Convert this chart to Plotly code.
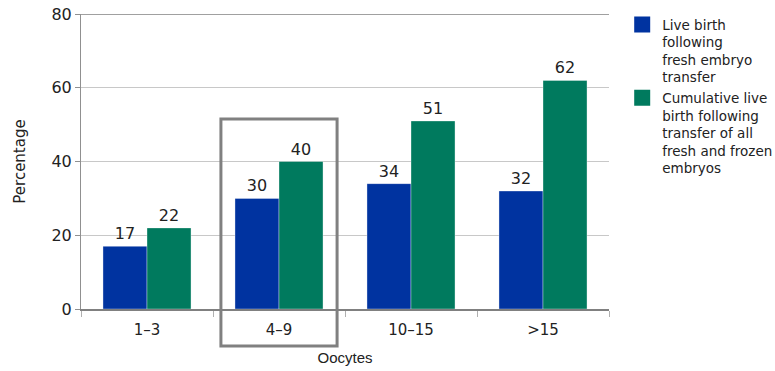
import plotly.graph_objects as go

categories = ["1\u20133", "4\u20139", "10\u201315", ">15"]
fresh = [17, 30, 34, 32]
cumulative = [22, 40, 51, 62]
series_names = [
    "Live birth<br>following<br>fresh embryo<br>transfer",
    "Cumulative live<br>birth following<br>transfer of all<br>fresh and frozen<br>embryos",
]
y_ticks = [0, 20, 40, 60, 80]
highlight = "4\u20139"

BLUE = "#0033A0"
GREEN = "#007A5E"
FONT = "DejaVu Sans, Verdana, sans-serif"
TXT = "#222222"

fig = go.Figure()
for vals, col, name in [(fresh, BLUE, series_names[0]), (cumulative, GREEN, series_names[1])]:
    fig.add_trace(go.Bar(
        x=categories, y=vals, name=name, marker=dict(color=col, line=dict(color="rgba(255,255,255,0.35)", width=1)),
        text=[str(v) for v in vals], textposition="outside", cliponaxis=False,
        textfont=dict(family=FONT, size=16, color=TXT), showlegend=False,
    ))
    fig.add_trace(go.Scatter(
        x=[None], y=[None], mode="markers", name=name,
        marker=dict(symbol="square", size=16, color=col), showlegend=True,
    ))

idx = categories.index(highlight)
n = len(categories)
fig.add_shape(type="rect", xref="paper", yref="paper",
              x0=(idx + 0.5 - 0.44) / n, x1=(idx + 0.5 + 0.44) / n,
              y0=-0.125, y1=0.644,
              line=dict(color="#808080", width=3), fillcolor="rgba(0,0,0,0)", layer="above")
fig.add_shape(type="line", xref="paper", yref="y", x0=0, x1=1, y0=80, y1=80,
              line=dict(color="#A0A0A0", width=2), layer="below")

fig.update_layout(
    width=775, height=371,
    margin=dict(l=81, r=166, t=14, b=62, autoexpand=False),
    paper_bgcolor="white", plot_bgcolor="white",
    barmode="group", bargap=0.333, bargroupgap=0,
    font=dict(family=FONT, size=15, color=TXT),
    legend=dict(x=1.025, xanchor="left", y=1.016, yanchor="top", valign="top",
                font=dict(family=FONT, size=13.5, color=TXT), tracegroupgap=1,
                bgcolor="rgba(0,0,0,0)"),
    xaxis=dict(showgrid=False, ticks="outside", tickson="boundaries", ticklen=6,
               tickcolor="#B0B0B0", showline=True, linecolor="#808080", linewidth=2,
               automargin=False, ticklabelstandoff=6,
               tickfont=dict(family=FONT, size=15, color=TXT),
               title=dict(text="Oocytes", font=dict(family="Liberation Sans, Arial", size=15, color=TXT), standoff=14)),
    yaxis=dict(range=[0, 80], tickvals=y_ticks, showgrid=True, gridcolor="#C8C8C8", gridwidth=1,
               zeroline=False, showline=True, linecolor="#909090", linewidth=1,
               automargin=False,
               ticks="outside", ticklen=5, tickcolor="#909090",
               tickfont=dict(family=FONT, size=16, color=TXT),
               title=dict(text="Percentage", font=dict(family=FONT, size=15, color=TXT), standoff=22)),
)

fig.write_html("out.html")
